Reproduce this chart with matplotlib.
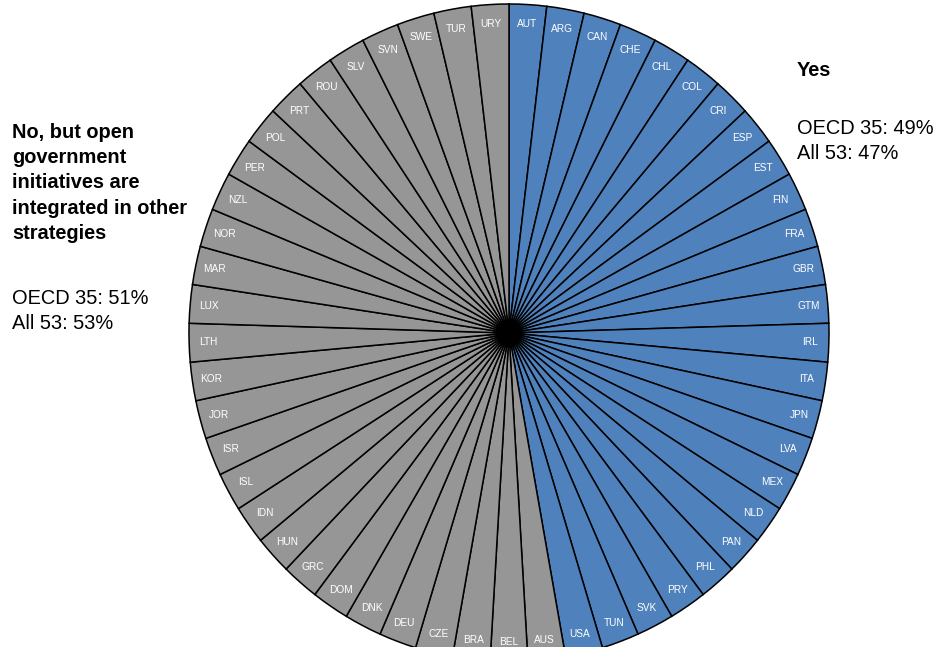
import matplotlib.pyplot as plt

# countries going clockwise from the top
yes_countries = ['AUT', 'ARG', 'CAN', 'CHE', 'CHL', 'COL', 'CRI', 'ESP', 'EST', 'FIN',
                 'FRA', 'GBR', 'GTM', 'IRL', 'ITA', 'JPN', 'LVA', 'MEX', 'NLD', 'PAN',
                 'PHL', 'PRY', 'SVK', 'TUN', 'USA']
no_countries = ['AUS', 'BEL', 'BRA', 'CZE', 'DEU', 'DNK', 'DOM', 'GRC', 'HUN', 'IDN',
                'ISL', 'ISR', 'JOR', 'KOR', 'LTH', 'LUX', 'MAR', 'NOR', 'NZL', 'PER',
                'POL', 'PRT', 'ROU', 'SLV', 'SVN', 'SWE', 'TUR', 'URY']

labels = yes_countries + no_countries
sizes = [1] * len(labels)
colors = ['#4f81bd'] * len(yes_countries) + ['#969696'] * len(no_countries)

font = ['Liberation Sans Narrow', 'Liberation Sans', 'DejaVu Sans']

fig = plt.figure(figsize=(9.37, 6.47), dpi=100)
# pie is slightly taller than wide and runs off the bottom edge
ax = fig.add_axes([189 / 937, (647 - 662) / 647, 640 / 937, 658 / 647])

wedges, texts = ax.pie(sizes, labels=labels, colors=colors, startangle=90,
                       counterclock=False, labeldistance=0.94,
                       wedgeprops=dict(edgecolor='black', linewidth=1.1),
                       textprops=dict(color='white', fontsize=7.3, family=font))
for t in texts:
    t.set_horizontalalignment('center')
    t.set_verticalalignment('center')
ax.set_xlim(-1, 1)
ax.set_ylim(-1, 1)
ax.set_aspect('auto')
ax.axis('off')

fs = 14.4
fig.text(797 / 937, 1 - 70 / 647, 'Yes', fontsize=fs, fontweight='bold',
         family=font, va='center', ha='left')
fig.text(797 / 937, 1 - 141 / 647, 'OECD 35: 49%\nAll 53: 47%', fontsize=fs,
         family=font, va='center', ha='left', linespacing=1.38)

fig.text(12 / 937, 1 - 183 / 647,
         'No, but open\ngovernment\ninitiatives are\nintegrated in other\nstrategies',
         fontsize=fs, fontweight='bold', family=font, va='center', ha='left',
         linespacing=1.42)
fig.text(12 / 937, 1 - 311 / 647, 'OECD 35: 51%\nAll 53: 53%', fontsize=fs,
         family=font, va='center', ha='left', linespacing=1.34)

fig.savefig('out.png', dpi=100)
